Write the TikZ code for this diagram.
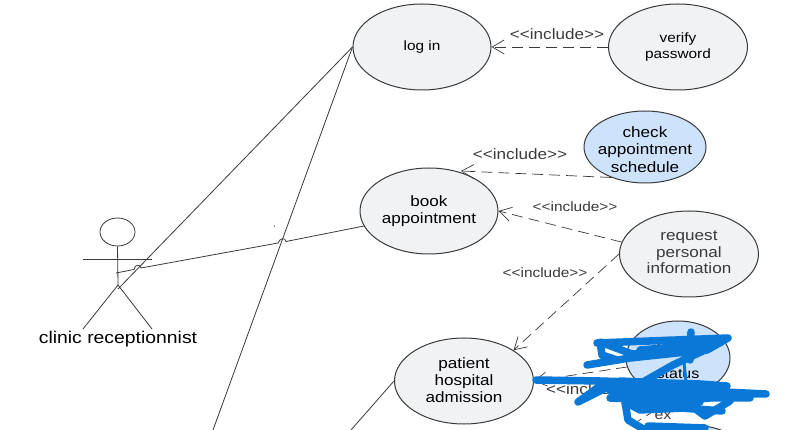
\documentclass[tikz,border=0pt]{standalone}
\usepackage{fontspec}
\setmainfont[FakeStretch=1.14,Ligatures=NoCommon]{Liberation Sans}
\usetikzlibrary{shapes.geometric,arrows.meta}
\definecolor{ucgray}{HTML}{F1F2F4}
\definecolor{ucblue}{HTML}{CDE2FB}
\definecolor{ink}{HTML}{3A3A3A}
\definecolor{scrib}{HTML}{0A78D7}
\newcommand{\fs}[2]{\fontsize{#1}{#2}\selectfont}
\newcommand{\incltext}{{<}{<}include{>}{>}}
\tikzset{
  x=1pt,y=-1pt,
  uc/.style={ellipse,draw=ink,line width=1pt,fill=ucgray,inner sep=0pt,align=center,text=black},
  ucb/.style={uc,fill=ucblue},
  assoc/.style={draw=ink,line width=0.8pt},
  dashline/.style={draw=ink,line width=0.7pt,dash pattern=on 11pt off 6pt},
  incl/.style={dashline,-{Straight Barb[length=12pt,width=14pt,line width=0.7pt]}},
  lab/.style={font=\fs{15}{17},text=ink,inner sep=0pt},
  smalllab/.style={font=\fs{13.5}{15},text=ink,inner sep=0pt},
  scribble/.style={draw=scrib,line width=7.5pt,line cap=round,line join=round},
}
\begin{document}
\begin{tikzpicture}
\useasboundingbox (0,0) rectangle (793,430);
\clip (0,0) rectangle (793,430);
\fill[white] (0,0) rectangle (793,430);

% use cases
\node[uc,minimum width=138pt,minimum height=86pt,font=\fs{13.5}{16}] (login) at (422,47) {log in};
\node[uc,minimum width=139pt,minimum height=86pt,font=\fs{13.5}{16}] (verify) at (678,47) {verify\\password};
\node[ucb,inner sep=-12pt,minimum width=122pt,minimum height=72pt,font=\fs{15}{17.5}] (sched) at (645,147) {\rule{0pt}{16pt}check\\appointment\\schedule};
\node[uc,minimum width=138pt,minimum height=86pt,font=\fs{15}{17}] (book) at (429,211) {book\\appointment};
\node[uc,minimum width=139pt,minimum height=86pt,font=\fs{15}{16.5},text=ink] (request) at (689,254) {request\\personal\\\rule[-3pt]{0pt}{0pt}information};
\node[uc,minimum width=139pt,minimum height=86pt,font=\fs{15}{17}] (admit) at (464,381) {patient\\hospital\\\rule[-2pt]{0pt}{0pt}admission};
\node[ucb,minimum width=104pt,minimum height=74pt,font=\fs{14}{31}] (status) at (678,358) {check\\status};
\node[ucb,minimum width=120pt,minimum height=70pt] (extra) at (690,460) {};

% actor
\node[ellipse,draw=ink,line width=0.8pt,minimum width=35pt,minimum height=28pt,inner sep=0pt] (head) at (117.5,232) {};
\coordinate (hip) at (118,285);
\coordinate (armL) at (83,259);
\coordinate (armR) at (152,259);
\coordinate (footL) at (83,329);
\coordinate (footR) at (152,329);
\draw[assoc] (head.south) -- (hip);
\draw[assoc] (armL) -- (armR);
\draw[assoc] (footL) -- (hip) -- (footR);
\node[font=\fs{17}{20},inner sep=0pt] (actorname) at (118,339) {clinic receptionnist};

% associations
\coordinate (a1) at (118,289);
\coordinate (a2) at (213,430);
\coordinate (a3) at (351,430);
\coordinate (a4) at (116,273);
\coordinate (b1) at (134,269.5);
\coordinate (b2) at (141,268);
\coordinate (b3) at (278,243);
\coordinate (b4) at (286,241.5);
\coordinate (c1) at (632,425);
\draw[assoc] (a1) -- (login.west);
\draw[assoc] (a2) -- (login.west);
\draw[assoc] (a3) -- (admit.west);
\draw[assoc] (a4) -- (b1) .. controls (135,264) and (140,264) .. (b2) -- (b3) .. controls (280,238) and (285,237) .. (b4) -- (book.193);
\fill[ink] (274.5,226) circle (0.6pt);

% includes
\draw[incl] (verify.west) -- (login.east);
\draw[incl] (sched.222) -- (461,171);
\draw[incl] (request.170) -- (book.east);
\draw[incl] (request.180) -- (admit.north east);
\draw[incl] (status.190) -- (admit.east);
\draw[dashline] (c1) -- (status.south);

\node[lab] (l1) at (557,34) {\incltext};
\node[lab] (l2) at (520,154) {\incltext};
\node[smalllab] (l3) at (575,207) {\incltext};
\node[smalllab] (l4) at (545,273) {\incltext};
\node[lab,anchor=west] (l5) at (546,389) {\incltext};
\node[lab,font=\fs{14}{17}] (l6) at (663,416) {ex};

% scribble
\draw[scribble] (597,343) -- (728,338) -- (707,350) -- (632,354) -- (600,342) -- (602,355) -- (617,360)
  -- (587,365) -- (630,358) -- (705,350) -- (673,365) -- (643,382);
\draw[scribble] (691,332) -- (690,360);
\draw[scribble] (640,350) -- (720,343);
\draw[scribble,line width=3pt] (684,362) -- (686,382);
\draw[scribble] (536,380) -- (600,381) -- (700,384) -- (727,386) -- (620,381) -- (578,402) -- (600,386)
  -- (766,394) -- (610,391) -- (750,398) -- (610,398) -- (700,402) -- (640,404) -- (722,397);
\draw[scribble] (625,404) -- (722,411) -- (685,408) -- (640,410) -- (625,402) -- (628,420) -- (645,430);
\draw[scribble] (690,405) -- (705,416) -- (730,401);
\draw[scribble] (640,400) -- (650,408);
\draw[scribble] (648,426) -- (705,428);
\end{tikzpicture}
\end{document}
